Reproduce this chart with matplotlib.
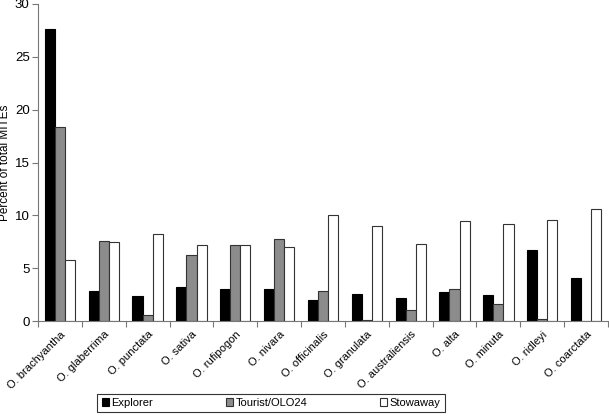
import matplotlib.pyplot as plt
import numpy as np

plt.rcParams['font.family'] = ['Liberation Sans', 'DejaVu Sans']

species = ["O. brachyantha", "O. glaberrima", "O. punctata", "O. sativa",
           "O. rufipogon", "O. nivara", "O. officinalis", "O. granulata",
           "O. australiensis", "O. alta", "O. minuta", "O. ridleyi", "O. coarctata"]
explorer = [27.6, 2.8, 2.4, 3.2, 3.05, 3.0, 2.0, 2.6, 2.2, 2.75, 2.5, 6.75, 4.05]
tourist = [18.4, 7.6, 0.6, 6.2, 7.2, 7.8, 2.8, 0.1, 1.0, 3.0, 1.6, 0.15, 0.0]
stowaway = [5.8, 7.5, 8.2, 7.2, 7.2, 7.05, 10.05, 8.95, 7.25, 9.5, 9.15, 9.6, 10.6]

fig = plt.figure(figsize=(6.09, 4.18), dpi=100)
ax = fig.add_axes([38 / 609, 1 - 321 / 418, 570 / 609, 317 / 418])

x = np.arange(len(species))
w = 0.23
ax.bar(x - w, explorer, w, color="black", edgecolor="black", linewidth=0.8, label="Explorer")
ax.bar(x, tourist, w, color="#8c8c8c", edgecolor="#333333", linewidth=0.8, label="Tourist/OLO24")
ax.bar(x + w, stowaway, w, color="white", edgecolor="#333333", linewidth=0.8, label="Stowaway")

ax.set_xlim(-0.5, len(species) - 0.5)
ax.set_ylim(0, 30)
ax.set_yticks([0, 5, 10, 15, 20, 25, 30])
ax.tick_params(axis="y", labelsize=9.5, length=4, width=0.8, color="#777777", pad=2)
ax.set_ylabel("Percent of total MITEs", fontsize=8.5)
ax.yaxis.set_label_coords(-0.047, 0.5)

# tick marks sit between the categories, labels at the centres
ax.set_xticks(np.arange(len(species) + 1) - 0.5)
ax.set_xticklabels([])
ax.set_xticks(x, minor=True)
ax.set_xticklabels(species, minor=True, rotation=45, ha="right",
                   rotation_mode="anchor", fontsize=8)
ax.tick_params(axis="x", which="major", length=4, width=0.8, color="#777777")
ax.tick_params(axis="x", which="minor", length=0, pad=6)

for s in ["top", "right"]:
    ax.spines[s].set_visible(False)
for s in ["left", "bottom"]:
    ax.spines[s].set_color("#777777")
    ax.spines[s].set_linewidth(0.8)

leg = fig.legend(loc="lower center", bbox_to_anchor=(271 / 609, 0), ncol=3,
                 fontsize=8, frameon=True, fancybox=False, edgecolor="black",
                 handlelength=0.7, handleheight=0.7, handletextpad=0.2,
                 columnspacing=6.5, borderpad=0.4)
leg.get_frame().set_linewidth(0.8)

fig.savefig("out.png", dpi=100)
